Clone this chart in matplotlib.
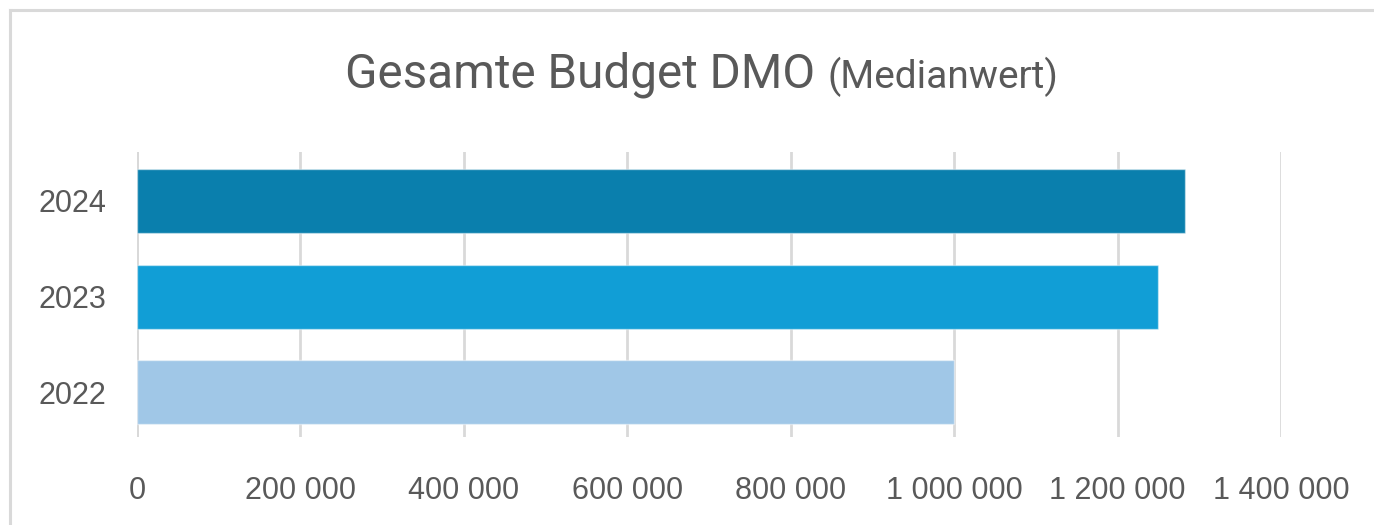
import matplotlib.pyplot as plt
from matplotlib.lines import Line2D
from matplotlib.ticker import FuncFormatter

# Median budget per year
years = ['2022', '2023', '2024']
budget = [1000000, 1250000, 1283000]
bar_colors = ['#A0C7E7', '#119ED6', '#0A7FAD']
x_ticks = [0, 200000, 400000, 600000, 800000, 1000000, 1200000, 1400000]

W, H = 1374, 525
fig = plt.figure(figsize=(W / 100, H / 100), dpi=100)
fig.patch.set_facecolor('white')

grid_col = '#D9D9D9'
text_col = '#595959'

ax = fig.add_axes([137 / W, (H - 437) / H, (1281 - 137) / W, (437 - 152) / H])
ax.barh(range(len(years)), budget, height=0.67, color=bar_colors,
        edgecolor=(1, 1, 1, 0.45), linewidth=1.0, zorder=3)

ax.set_xlim(0, 1400000)
ax.set_ylim(-0.471, 2.513)
ax.set_xticks(x_ticks)
ax.xaxis.set_major_formatter(FuncFormatter(lambda v, p: f'{int(v):,}'.replace(',', ' ')))
ax.set_yticks(range(len(years)))
ax.set_yticklabels(years)

ax.grid(axis='x', color=grid_col, linewidth=2.0, zorder=0)
for s in ax.spines.values():
    s.set_visible(False)
ax.axvline(0, color=grid_col, linewidth=2.0, zorder=1)

ax.tick_params(axis='both', length=0, labelcolor=text_col, labelsize=22)
ax.tick_params(axis='y', pad=22)
ax.tick_params(axis='x', pad=28)
for lbl in ax.get_xticklabels() + ax.get_yticklabels():
    lbl.set_fontfamily('Liberation Sans')

# two-part title
fig.text(815 / W, (H - 88) / H, 'Gesamte Budget DMO', ha='right', va='baseline',
         fontsize=34.3, color=text_col, family='Roboto')
fig.text(828 / W, (H - 88) / H, '(Medianwert)', ha='left', va='baseline',
         fontsize=28, color=text_col, family='Roboto')

# chart area frame
fig.add_artist(Line2D([9.5 / W, 9.5 / W], [0, (H - 9.5) / H],
                      transform=fig.transFigure, color=grid_col, linewidth=2.2))
fig.add_artist(Line2D([9.5 / W, 1], [(H - 9.5) / H, (H - 9.5) / H],
                      transform=fig.transFigure, color=grid_col, linewidth=2.2))

fig.savefig('out.png', dpi=100)
